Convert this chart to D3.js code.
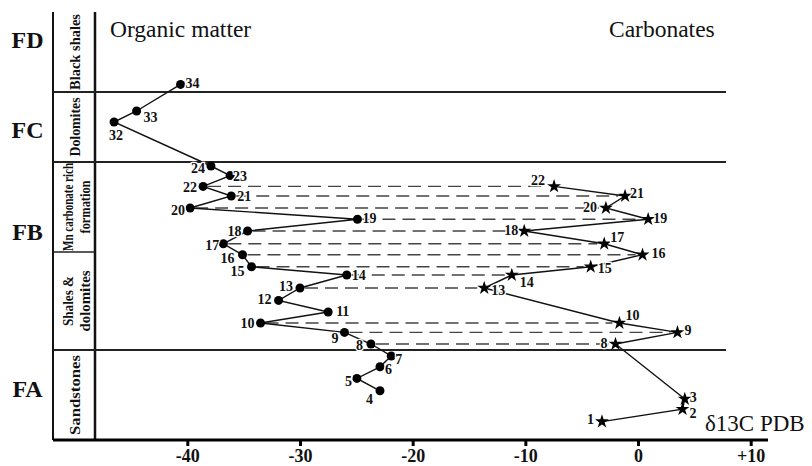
<!DOCTYPE html>
<html><head><meta charset="utf-8">
<script src="https://cdn.jsdelivr.net/npm/d3@7"></script>
<style>
html,body{margin:0;padding:0;background:#fff;}
svg text{font-family:"Liberation Serif","Times New Roman",serif;fill:#111;}
</style></head>
<body><svg id="c" width="812" height="466"></svg>
<script>
// ---- data ----
const sampleIds   = [1,2,3,4,5,6,7,8,9,10,11,12,13,14,15,16,17,18,19,20,21,22,23,24,32,33,34];
const sampleLevel = [4.6,7.7,10.25,12.3,15.4,18.3,21,24,26.9,29.25,32,34.9,38,41.25,43.3,46.3,49.05,52.25,55.2,58,61,63.4,66.1,68.5,79.5,82.25,88.9];

const organicIds  = [4,5,6,7,8,9,10,11,12,13,14,15,16,17,18,19,20,21,22,23,24,32,33,34];
const organicD13C = [-22.9,-24.95,-22.9,-21.9,-23.7,-26.05,-33.5,-27.5,-31.9,-30.0,-25.85,-34.3,-35.1,-36.8,-34.65,-24.9,-39.75,-36.1,-38.6,-36.2,-37.9,-46.5,-44.5,-40.6];

const carbonateIds  = [1,2,3,8,9,10,13,14,15,16,17,18,19,20,21,22];
const carbonateD13C = [-3.2,3.95,4.15,-2.0,3.5,-1.65,-13.65,-11.2,-4.2,0.4,-3.0,-10.1,0.9,-2.85,-1.15,-7.45];

const xTicks = [-40,-30,-20,-10,0,10];

const formations      = ["FA","FB","FC","FD"];
const formationBounds = [0,22.5,69.5,87];
const formationLabelLevel = [12.75,52,77.5,100];

const lithologies = [["Sandstones"],["Shales &","dolomites"],["Mn carbonate rich","formation"],["Dolomites"],["Black shales"]];
const lithBounds  = [[0,22.5],[22.5,47],[47,69.5],[69.5,87],[87,107]];

// ---- layout (label offsets: dx, baseline dy, anchor) ----
const orgLab = {34:[5,4,"start"],33:[7,11,"start"],32:[-5,18,"start"],24:[-6,7,"end"],23:[3,5,"start"],22:[-6,6,"end"],
 21:[6,4.5,"start"],20:[-5,6.5,"end"],19:[5,4,"start"],18:[-6,4.5,"end"],17:[-4,6,"end"],16:[-8,8,"end"],15:[-7,9,"end"],
 14:[5,5,"start"],13:[-7,3,"end"],12:[-7,4,"end"],11:[8,4,"start"],10:[-6,5,"end"],9:[-6,11,"end"],8:[-8,6,"end"],
 7:[4,8,"start"],6:[5,7,"start"],5:[-5,8,"end"],4:[-7,13,"end"]};
const carLab = {22:[-9,-1,"end"],21:[5,2,"start"],20:[-9,4,"end"],19:[5,4,"start"],18:[-6,4,"end"],17:[6,-2,"start"],
 16:[9,3,"start"],15:[7,6,"start"],14:[8,12,"start"],13:[7,7,"start"],10:[6,-3,"start"],9:[7,3,"start"],8:[-8,4,"end"],
 3:[5,2.5,"start"],2:[7,8.5,"start"],1:[-8,2,"end"]};
const labelW = {"Black shales":76,"Dolomites":59,"Mn carbonate rich":88,"formation":53,"Shales &":50,"dolomites":61,"Sandstones":80};

const SERIF = "'Liberation Serif','Times New Roman',serif";
const svg = d3.select("#c");
const x = d3.scaleLinear().domain([-40,10]).range([187.3,750.7]);
const y = d3.scaleLinear().domain([0,107]).range([440,12]);
const levelOf = new Map(sampleIds.map((id,i)=>[id,sampleLevel[i]]));

const colL = 53, colR = 95, lineEnd = 726, axisEnd = 768;

// frame lines
const g = svg.append("g");
g.append("line").attr("x1",colL).attr("x2",colL).attr("y1",y(107)).attr("y2",y(0)).attr("stroke","#111").attr("stroke-width",2);
g.append("line").attr("x1",colR).attr("x2",colR).attr("y1",y(107)).attr("y2",y(0)).attr("stroke","#111").attr("stroke-width",2.5);
formationBounds.slice(1).forEach(b=>{
  g.append("line").attr("x1",colL).attr("x2",lineEnd).attr("y1",y(b)).attr("y2",y(b)).attr("stroke","#222").attr("stroke-width",2);
});
g.append("line").attr("x1",colL).attr("x2",colR).attr("y1",y(47)).attr("y2",y(47)).attr("stroke","#222").attr("stroke-width",1.5);

// formation labels
formations.forEach((f,i)=>{
  svg.append("text").attr("x",27.5).attr("y",y(formationLabelLevel[i])+8).attr("text-anchor","middle")
    .attr("font-family",SERIF).style("font-family",SERIF)
    .style("font-size","24px").style("font-weight","bold").text(f);
});
// lithology labels
lithologies.forEach((lines,i)=>{
  const cy = (y(lithBounds[i][0])+y(lithBounds[i][1]))/2;
  const xs = lines.length===1 ? [75] : [68,85];
  lines.forEach((t,j)=>{
    svg.append("text").attr("transform",`translate(${xs[j]},${cy}) rotate(-90)`)
      .attr("text-anchor","middle").attr("dy","0.33em")
      .attr("textLength",labelW[t]).attr("lengthAdjust","spacingAndGlyphs")
      .style("font-family",SERIF)
      .style("font-size","14.5px").style("font-weight","bold").text(t);
  });
});

// axis
svg.append("line").attr("x1",colL).attr("x2",axisEnd).attr("y1",y(0)).attr("y2",y(0)).attr("stroke","#000").attr("stroke-width",3);
const ax = svg.append("g").attr("transform",`translate(0,${y(0)+1})`)
  .call(d3.axisBottom(x).tickValues(xTicks).tickSize(5).tickPadding(6).tickFormat(d=> d>0 ? "+"+d : String(d)));
ax.select(".domain").remove();
ax.selectAll(".tick line").attr("stroke","#000").attr("stroke-width",3);
ax.selectAll(".tick text").attr("dy",null).attr("y",21).style("font-family",SERIF)
  .style("font-size","18px").style("font-weight","bold").attr("fill","#111");

// titles
svg.append("text").attr("x",110).attr("y",37).style("font-family",SERIF).style("font-size","23.5px").text("Organic matter");
svg.append("text").attr("x",609).attr("y",37).style("font-family",SERIF).style("font-size","23.5px").text("Carbonates");
svg.append("text").attr("x",705).attr("y",431).style("font-family",SERIF).style("font-size","23px").text("δ13C PDB");

// data
const org = organicIds.map((id,i)=>({id,v:organicD13C[i],lv:levelOf.get(id)}));
const car = carbonateIds.map((id,i)=>({id,v:carbonateD13C[i],lv:levelOf.get(id)}));
const orgMap = new Map(org.map(d=>[d.id,d]));

// dashed links
const dash = svg.append("g");
car.filter(d=>orgMap.has(d.id)).forEach(d=>{
  const o = orgMap.get(d.id);
  dash.append("line").attr("x1",x(o.v)+5).attr("x2",x(d.v)-7).attr("y1",y(d.lv)).attr("y2",y(d.lv))
    .attr("stroke","#444").attr("stroke-width",1.4).attr("stroke-dasharray","13,7");
});

const line = d3.line().x(d=>x(d.v)).y(d=>y(d.lv));
svg.append("path").datum(org).attr("d",line).attr("fill","none").attr("stroke","#111").attr("stroke-width",1.4);
svg.append("path").datum(car).attr("d",line).attr("fill","none").attr("stroke","#111").attr("stroke-width",1.4);

svg.append("g").selectAll("circle").data(org).join("circle")
  .attr("cx",d=>x(d.v)).attr("cy",d=>y(d.lv)).attr("r",4.5).attr("fill","#000");
svg.append("g").selectAll("path").data(car).join("path")
  .attr("transform",d=>`translate(${x(d.v)},${y(d.lv)})`).attr("d",d3.symbol(d3.symbolStar,60)).attr("fill","#000");

function labels(data, place){
  svg.append("g").selectAll("text").data(data).join("text")
    .attr("x",d=>x(d.v)+place[d.id][0]).attr("y",d=>y(d.lv)+place[d.id][1]).attr("text-anchor",d=>place[d.id][2])
    .style("font-family",SERIF).style("font-size","14px").style("font-weight","bold")
    .attr("stroke","#fff").attr("stroke-width",2.5).attr("paint-order","stroke")
    .text(d=>d.id);
}
labels(org, orgLab);
labels(car, carLab);
</script></body></html>
